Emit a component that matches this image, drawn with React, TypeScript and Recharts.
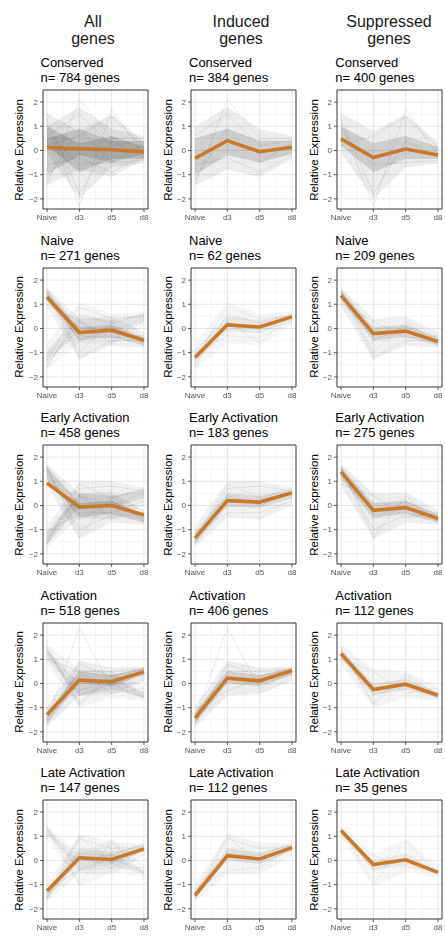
import React from 'react';
import { ComposedChart, Line, Area, XAxis, YAxis, CartesianGrid, ReferenceArea } from 'recharts';

const timepoints = ['Naive', 'd3', 'd5', 'd8'];
const columnTitles = ['All', 'Induced', 'Suppressed'];
const columnSubtitle = 'genes';
const clusters = ['Conserved', 'Naive', 'Early Activation', 'Activation', 'Late Activation'];
const yTicks = [-2, -1, 0, 1, 2];

const countsAll = [784, 271, 458, 518, 147];
const countsInduced = [384, 62, 183, 406, 112];
const countsSuppressed = [400, 209, 275, 112, 35];

const meanAll = [
  [0.12, 0.07, 0.03, -0.06],
  [1.3, -0.17, -0.07, -0.49],
  [0.93, -0.07, 0.0, -0.39],
  [-1.29, 0.14, 0.07, 0.49],
  [-1.26, 0.11, 0.04, 0.48],
];
const meanInduced = [
  [-0.33, 0.4, -0.05, 0.13],
  [-1.2, 0.15, 0.06, 0.48],
  [-1.35, 0.2, 0.14, 0.52],
  [-1.43, 0.22, 0.11, 0.53],
  [-1.44, 0.2, 0.06, 0.53],
];
const meanSuppressed = [
  [0.48, -0.29, 0.06, -0.19],
  [1.37, -0.21, -0.11, -0.54],
  [1.39, -0.2, -0.09, -0.54],
  [1.23, -0.25, -0.03, -0.49],
  [1.24, -0.17, 0.03, -0.49],
];

// spread of the individual gene profiles (outer = faint extent, inner = dense core)
const inducedOuterLo = [
  [-1.45, -0.8, -1.1, -0.35],
  [-1.7, -0.6, -0.7, 0.1],
  [-1.75, -0.5, -0.6, 0.0],
  [-1.8, -0.5, -0.45, 0.1],
  [-1.7, -0.55, -0.6, 0.2],
];
const inducedOuterHi = [
  [1.0, 1.8, 0.9, 0.6],
  [-0.6, 1.1, 0.6, 0.7],
  [-0.85, 1.0, 1.0, 0.75],
  [-0.95, 0.95, 0.65, 0.7],
  [-1.0, 1.1, 0.75, 0.7],
];
const inducedInnerLo = [
  [-1.0, -0.2, -0.5, -0.15],
  [-1.4, -0.1, -0.2, 0.3],
  [-1.6, -0.05, -0.1, 0.3],
  [-1.65, 0.0, -0.1, 0.35],
  [-1.6, 0.0, -0.15, 0.4],
];
const inducedInnerHi = [
  [0.5, 0.9, 0.4, 0.4],
  [-0.9, 0.5, 0.35, 0.6],
  [-1.1, 0.5, 0.4, 0.65],
  [-1.2, 0.5, 0.35, 0.65],
  [-1.25, 0.5, 0.35, 0.65],
];
const suppressedOuterLo = [
  [-0.1, -2.0, -0.7, -0.55],
  [0.9, -1.3, -0.7, -0.8],
  [0.8, -1.4, -0.7, -0.8],
  [0.8, -1.0, -0.6, -0.7],
  [0.9, -1.1, -0.5, -0.7],
];
const suppressedOuterHi = [
  [1.55, 0.8, 1.5, 0.35],
  [1.7, 0.4, 0.5, -0.15],
  [1.7, 0.5, 0.55, -0.2],
  [1.6, 0.6, 0.5, -0.1],
  [1.45, 0.3, 0.9, -0.2],
];
const suppressedInnerLo = [
  [0.2, -0.9, -0.35, -0.35],
  [1.15, -0.5, -0.35, -0.7],
  [1.1, -0.5, -0.35, -0.7],
  [1.0, -0.5, -0.25, -0.6],
  [1.05, -0.4, -0.2, -0.6],
];
const suppressedInnerHi = [
  [1.0, 0.3, 0.6, 0.15],
  [1.6, 0.05, 0.15, -0.35],
  [1.6, 0.1, 0.2, -0.35],
  [1.4, 0.0, 0.2, -0.35],
  [1.35, 0.0, 0.3, -0.4],
];

// a few individual gene profiles that stand out in each cloud
const inducedExamples = [
  [[-1.2, 0.9, -0.5, 0.3], [0.6, 1.5, 0.2, 0.4], [-0.6, -0.3, -0.9, -0.2], [-1.4, 2.1, 0.5, 0.5]],
  [[-1.6, 0.6, 0.2, 0.6], [-1.0, -0.3, -0.4, 0.3], [-1.3, 0.9, 0.4, 0.5], [-1.5, 0.3, -0.6, 0.6]],
  [[-1.6, 0.7, 0.8, 0.6], [-1.1, -0.3, -0.3, 0.2], [-1.4, 0.4, 0.0, 0.5], [-1.5, 0.9, 0.3, 0.7]],
  [[-1.7, 0.8, 0.3, 0.6], [-1.1, -0.3, 0.2, 0.4], [-1.5, 2.3, -0.2, 0.5], [-1.3, 0.5, 0.5, 0.6]],
  [[-1.6, 0.9, 0.5, 0.6], [-1.2, -0.4, -0.3, 0.5], [-1.5, 0.3, 0.2, 0.7], [-1.4, 1.0, -0.1, 0.4]],
];
const suppressedExamples = [
  [[1.3, -1.8, 0.4, -0.3], [0.2, 0.6, 1.4, 0.1], [0.8, -0.6, -0.5, -0.4], [1.1, -2.3, 1.7, -0.2]],
  [[1.6, -1.0, 0.3, -0.7], [1.0, 0.3, -0.4, -0.3], [1.4, -0.5, 0.1, -0.6], [1.5, -1.2, -0.5, -0.5]],
  [[1.6, -1.3, 0.4, -0.7], [0.9, 0.4, -0.5, -0.3], [1.4, -0.6, 0.2, -0.6], [1.5, -1.0, -0.4, -0.4]],
  [[1.5, -0.9, 0.3, -0.6], [1.0, 0.5, -0.4, -0.2], [1.3, -0.5, 0.0, -0.6], [1.4, -0.8, 0.4, -0.5]],
  [[1.4, -1.0, 0.8, -0.6], [1.1, 0.2, -0.3, -0.3], [1.3, -0.4, 0.1, -0.5]],
];

const plotLefts = [42.5, 191, 337.3];
const plotTop0 = 90;
const rowPitch = 177.5;
const plotW = 105;
const plotH = 119;
const yAxisW = 42;
const mTop = 4;
const mRight = 3;
const xAxisH = 22;
const xDomain: [number, number] = [-0.125, 3.125];
const yDomain: [number, number] = [-2.42, 2.5];
const FONT = "'Liberation Sans', Arial, Helvetica, sans-serif";
const ORANGE = '#c8792a';

type Band = { lo: number[]; hi: number[]; alpha: number };

const density = (n: number) => Math.min(1, 0.35 + n / 450);

function bandsFor(kind: 'ind' | 'sup', r: number, n: number): { outer: Band; inner: Band } {
  const f = density(n);
  if (kind === 'ind') {
    return {
      outer: { lo: inducedOuterLo[r], hi: inducedOuterHi[r], alpha: 0.07 * f },
      inner: { lo: inducedInnerLo[r], hi: inducedInnerHi[r], alpha: 0.13 * f },
    };
  }
  return {
    outer: { lo: suppressedOuterLo[r], hi: suppressedOuterHi[r], alpha: 0.07 * f },
    inner: { lo: suppressedInnerLo[r], hi: suppressedInnerHi[r], alpha: 0.13 * f },
  };
}

const fmtY = (v: number) => (v < 0 ? '\u2212' + Math.abs(v) : String(v));

function Panel({ r, c }: { r: number; c: number }) {
  const plotLeft = plotLefts[c];
  const plotTop = plotTop0 + r * rowPitch;
  const counts = [countsAll, countsInduced, countsSuppressed][c];
  const means = [meanAll, meanInduced, meanSuppressed][c];
  const n = counts[r];
  let bands: Band[] = [];
  let examples: number[][] = [];
  if (c === 0) {
    const a = bandsFor('ind', r, countsInduced[r]);
    const b = bandsFor('sup', r, countsSuppressed[r]);
    bands = [a.outer, b.outer, a.inner, b.inner];
    examples = [...inducedExamples[r], ...suppressedExamples[r]];
  } else {
    const a = bandsFor(c === 1 ? 'ind' : 'sup', r, n);
    bands = [a.outer, a.inner];
    examples = c === 1 ? inducedExamples[r] : suppressedExamples[r];
  }
  const lineOpacity = 0.1 + 0.1 * density(n);
  const data = timepoints.map((t, i) => {
    const row: any = { x: i, mean: means[r][i] };
    bands.forEach((b, k) => {
      row['b' + k] = [b.lo[i], b.hi[i]];
    });
    examples.forEach((e, k) => {
      row['g' + k] = e[i];
    });
    return row;
  });
  const chartW = yAxisW + plotW + mRight;
  const chartH = mTop + plotH + xAxisH;
  return (
    <>
      <div
        style={{
          position: 'absolute',
          left: plotLeft - 2,
          top: plotTop - 35,
          fontSize: 13,
          lineHeight: '15px',
          color: '#000',
          whiteSpace: 'nowrap',
        }}
      >
        <div>{clusters[r]}</div>
        <div>{'n= ' + n + ' genes'}</div>
      </div>
      <div
        style={{
          position: 'absolute',
          left: plotLeft - 23.5,
          top: plotTop + plotH / 2,
          transform: 'translate(-50%, -50%) rotate(-90deg)',
          fontSize: 11.5,
          lineHeight: '12px',
          whiteSpace: 'nowrap',
          color: '#000',
        }}
      >
        Relative Expression
      </div>
      <div
        style={{
          position: 'absolute',
          left: plotLeft - yAxisW,
          top: plotTop - mTop,
          opacity: 0.999,
          willChange: 'transform',
        }}
      >
        <ComposedChart
          width={chartW}
          height={chartH}
          data={data}
          margin={{ top: mTop, right: mRight, bottom: 0, left: 0 }}
        >
          <CartesianGrid
            stroke="#efefef"
            strokeWidth={0.6}
            horizontalValues={[-1.5, -0.5, 0.5, 1.5]}
            verticalValues={[0.5, 1.5, 2.5]}
          />
          <CartesianGrid
            stroke="#e6e6e6"
            strokeWidth={1}
            horizontalValues={yTicks}
            verticalValues={[0, 1, 2, 3]}
          />
          <XAxis
            dataKey="x"
            type="number"
            domain={xDomain}
            ticks={[0, 1, 2, 3]}
            interval={0}
            allowDataOverflow
            tickFormatter={(v: number) => timepoints[v]}
            height={xAxisH}
            axisLine={false}
            stroke="#333"
            tickLine={{ stroke: '#333', strokeWidth: 0.8 }}
            tickSize={3}
            tickMargin={2}
            tick={{ fontSize: 8, fill: '#555', stroke: 'none', fontFamily: FONT }}
          />
          <YAxis
            type="number"
            domain={yDomain}
            ticks={yTicks}
            interval={0}
            allowDataOverflow
            width={yAxisW}
            tickFormatter={fmtY}
            axisLine={false}
            stroke="#333"
            tickLine={{ stroke: '#333', strokeWidth: 0.8 }}
            tickSize={3}
            tickMargin={2}
            tick={{ fontSize: 8, fill: '#555', stroke: 'none', fontFamily: FONT }}
          />
          {bands.map((b, k) => (
            <Area
              key={'b' + k}
              type="linear"
              dataKey={'b' + k}
              stroke="none"
              fill="#000"
              fillOpacity={b.alpha}
              dot={false}
              activeDot={false}
              isAnimationActive={false}
            />
          ))}
          {examples.map((e, k) => (
            <Line
              key={'g' + k}
              type="linear"
              dataKey={'g' + k}
              stroke="#222"
              strokeOpacity={lineOpacity}
              strokeWidth={0.6}
              strokeDasharray="3 1"
              dot={false}
              activeDot={false}
              isAnimationActive={false}
            />
          ))}
          <Line
            type="linear"
            dataKey="mean"
            stroke={ORANGE}
            strokeWidth={3.6}
            dot={false}
            activeDot={false}
            isAnimationActive={false}
          />
          <ReferenceArea
            x1={xDomain[0]}
            x2={xDomain[1]}
            y1={yDomain[0]}
            y2={yDomain[1]}
            fill="none"
            stroke="#333"
            strokeWidth={1}
            ifOverflow="visible"
          />
        </ComposedChart>
      </div>
    </>
  );
}

export default function App() {
  const colCenters = [93, 241, 389];
  return (
    <div
      style={{
        position: 'absolute',
        left: 0,
        top: 0,
        width: 445,
        height: 936,
        background: '#fff',
        fontFamily: FONT,
        overflow: 'hidden',
      }}
    >
      {columnTitles.map((t, c) => (
        <div
          key={t}
          style={{
            position: 'absolute',
            left: colCenters[c] - 70,
            width: 140,
            top: 13,
            textAlign: 'center',
            fontSize: 16,
            lineHeight: '17px',
            color: '#1a1a1a',
          }}
        >
          <div>{t}</div>
          <div>{columnSubtitle}</div>
        </div>
      ))}
      {clusters.map((_, r) => [0, 1, 2].map((c) => <Panel key={r + '-' + c} r={r} c={c} />))}
    </div>
  );
}
